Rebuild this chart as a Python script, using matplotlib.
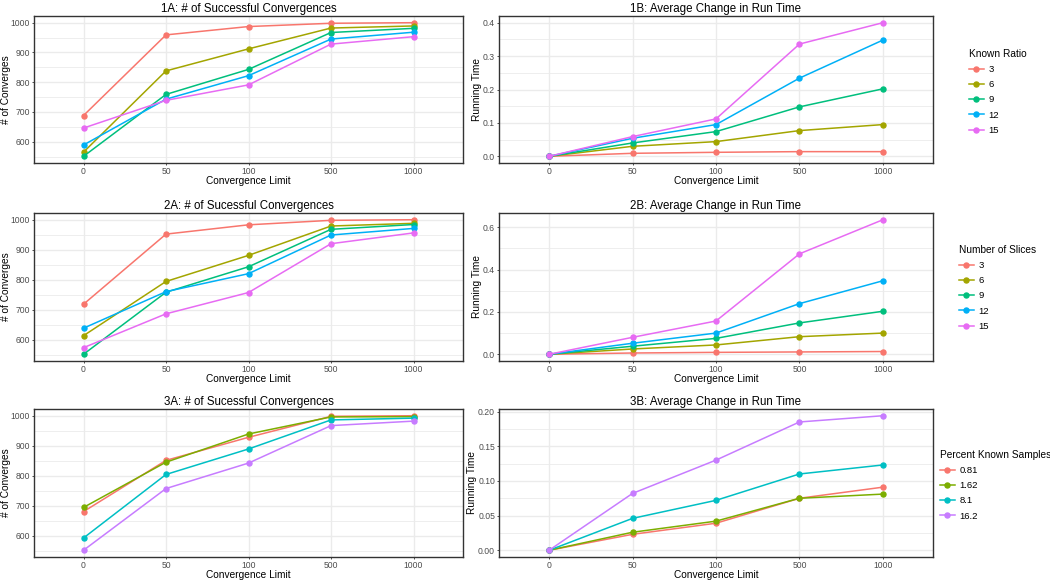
import matplotlib
matplotlib.use("Agg")
import matplotlib.pyplot as plt
from matplotlib.ticker import MultipleLocator, FormatStrFormatter

plt.rcParams['font.family'] = ['Liberation Sans', 'DejaVu Sans']

limits = ["0", "50", "100", "500", "1000"]

# panel 1: known ratio
ratio_labels = ["3", "6", "9", "12", "15"]
conv1 = [
    [688, 959, 987, 998, 1000],
    [565, 838, 912, 982, 989],
    [551, 759, 843, 967, 981],
    [589, 743, 822, 945, 968],
    [646, 739, 791, 928, 953],
]
time1 = [
    [0, 0.009, 0.012, 0.014, 0.014],
    [0, 0.030, 0.044, 0.077, 0.095],
    [0, 0.040, 0.074, 0.148, 0.202],
    [0, 0.054, 0.095, 0.234, 0.348],
    [0, 0.059, 0.112, 0.336, 0.400],
]

# panel 2: number of slices
slice_labels = ["3", "6", "9", "12", "15"]
conv2 = [
    [718, 952, 983, 998, 1000],
    [613, 794, 881, 979, 988],
    [551, 758, 843, 968, 984],
    [638, 760, 820, 949, 971],
    [573, 686, 757, 920, 956],
]
time2 = [
    [0, 0.006, 0.009, 0.011, 0.013],
    [0, 0.025, 0.044, 0.083, 0.100],
    [0, 0.038, 0.075, 0.148, 0.203],
    [0, 0.052, 0.100, 0.239, 0.347],
    [0, 0.080, 0.157, 0.474, 0.635],
]

# panel 3: percent known samples
pct_labels = ["0.81", "1.62", "8.1", "16.2"]
conv3 = [
    [680, 851, 928, 998, 1000],
    [694, 845, 939, 996, 997],
    [592, 804, 889, 986, 992],
    [551, 757, 842, 967, 982],
]
time3 = [
    [0, 0.023, 0.039, 0.075, 0.091],
    [0, 0.026, 0.042, 0.075, 0.081],
    [0, 0.046, 0.072, 0.110, 0.123],
    [0, 0.082, 0.130, 0.185, 0.194],
]

hue5 = ["#F8766D", "#A3A500", "#00BF7D", "#00B0F6", "#E76BF3"]
hue4 = ["#F8766D", "#7CAE00", "#00BFC4", "#C77CFF"]

W, H = 1050, 581
fig = plt.figure(figsize=(W / 100, H / 100), dpi=100)


def make_ax(l, r, t, b):
    return fig.add_axes([l / W, 1 - b / H, (r - l) / W, (b - t) / H])


def style(ax, title, ylabel, major, minor, fmt):
    ax.set_xlim(-0.6, 4.6)
    ax.set_xticks(range(len(limits)))
    ax.set_xticklabels(limits)
    ax.yaxis.set_major_locator(MultipleLocator(major))
    ax.yaxis.set_minor_locator(MultipleLocator(minor))
    ax.yaxis.set_major_formatter(FormatStrFormatter(fmt))
    ax.grid(True, which='major', color='#EBEBEB', linewidth=1.0, zorder=0)
    ax.grid(True, which='minor', axis='y', color='#EBEBEB', linewidth=0.6, zorder=0)
    ax.set_axisbelow(True)
    ax.tick_params(which='major', length=1.6, width=0.6, color='#333333',
                   labelsize=6.2, labelcolor='#4D4D4D', pad=1.2)
    ax.tick_params(which='minor', length=0)
    for s in ax.spines.values():
        s.set_color('#333333')
        s.set_linewidth(1.0)
    ax.set_title(title, fontsize=8.3, pad=3)
    ax.set_xlabel("Convergence Limit", fontsize=7.3, labelpad=0)
    ax.set_ylabel(ylabel, fontsize=7.3, labelpad=1)


def draw(ax, data, colors, labels):
    for vals, c, lab in zip(data, colors, labels):
        ax.plot(range(len(limits)), vals, color=c, linewidth=1.1,
                marker='o', markersize=3.6, label=lab, zorder=3)


rows = [(16, 163), (213, 361), (409, 557)]
panels = [
    ("1A: # of Successful Convergences", "1B: Average Change in Run Time",
     conv1, time1, hue5, ratio_labels, "Known Ratio", 0.1, 0.05, '%.1f'),
    ("2A: # of Sucessful Convergences", "2B: Average Change in Run Time",
     conv2, time2, hue5, slice_labels, "Number of Slices", 0.2, 0.1, '%.1f'),
    ("3A: # of Sucessful Convergences", "3B: Average Change in Run Time",
     conv3, time3, hue4, pct_labels, "Percent Known Samples", 0.05, 0.025, '%.2f'),
]
legend_pos = [(965, 45), (955, 241), (936, 446)]

for (t, b), p, lp in zip(rows, panels, legend_pos):
    ta, tb, conv, tim, cols, labs, ltitle, maj, mnr, fmt = p
    axa = make_ax(34, 463, t, b)
    draw(axa, conv, cols, labs)
    style(axa, ta, "# of Converges", 100, 50, '%d')
    axa.yaxis.set_label_coords(-0.054, 0.5)

    axb = make_ax(499, 933, t, b)
    draw(axb, tim, cols, labs)
    style(axb, tb, "Running Time", maj, mnr, fmt)

    handles, hl = axb.get_legend_handles_labels()
    leg = fig.legend(handles, hl, title=ltitle, loc='upper left',
                     bbox_to_anchor=(lp[0] / W, 1 - lp[1] / H),
                     frameon=False, fontsize=6.8, title_fontsize=7.3,
                     handlelength=1.6, handletextpad=0.45, labelspacing=0.66,
                     alignment='left', borderaxespad=0)

fig.savefig("out.png", dpi=100)
